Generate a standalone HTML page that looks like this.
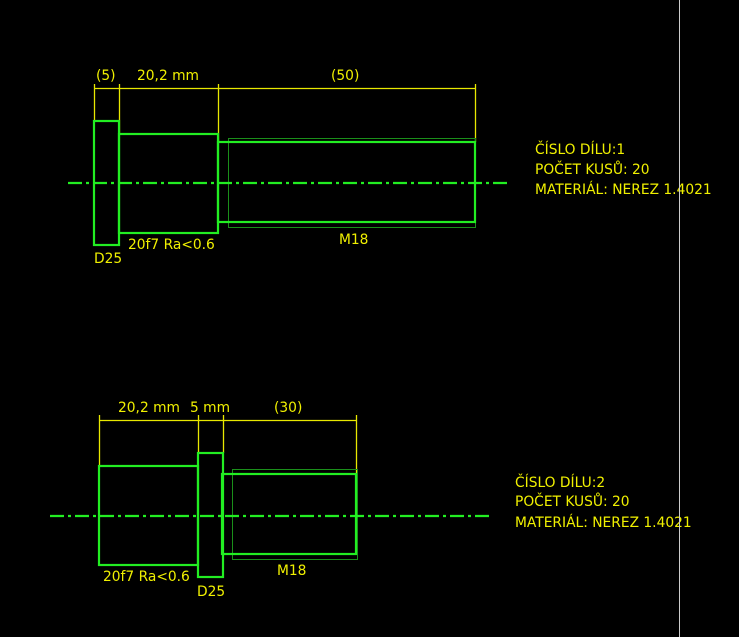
<!DOCTYPE html>
<html><head><meta charset="utf-8"><style>
html,body{margin:0;padding:0;background:#000;}
svg{display:block}
text{font-family:"DejaVu Sans","Liberation Sans",sans-serif;font-size:13.8px;fill:#f0f000;}
</style></head><body>
<svg width="739" height="637" viewBox="0 0 739 637" xmlns="http://www.w3.org/2000/svg">
<rect width="739" height="637" fill="#000"/>
<g fill="none" stroke="#e8e800" stroke-width="1.3">
<line x1="94.5" y1="84" x2="94.5" y2="121"/>
<line x1="119.5" y1="84" x2="119.5" y2="134"/>
<line x1="218.5" y1="84" x2="218.5" y2="142"/>
<line x1="475.5" y1="84" x2="475.5" y2="142"/>
<line x1="94" y1="88.5" x2="475" y2="88.5"/>
<line x1="99" y1="420.5" x2="356" y2="420.5"/>
<line x1="99.5" y1="415" x2="99.5" y2="466"/>
<line x1="198.5" y1="415" x2="198.5" y2="453"/>
<line x1="223.5" y1="415" x2="223.5" y2="453"/>
<line x1="356.5" y1="415" x2="356.5" y2="474"/>
</g>
<g fill="none" stroke="#1a8f1a" stroke-width="1">
<rect x="228.5" y="138.5" width="247" height="89"/>
<rect x="232.5" y="469.5" width="125" height="90"/>
</g>
<g fill="none" stroke="#22ee22" stroke-width="2.2">
<rect x="94" y="121" width="25" height="124"/>
<rect x="119" y="134" width="99" height="99"/>
<rect x="218" y="142" width="257" height="80"/>
<rect x="99" y="466" width="99" height="99"/>
<rect x="198" y="453" width="25" height="124"/>
<rect x="222" y="474" width="134" height="80"/>
</g>
<g stroke="#22ee22" stroke-width="2.2" stroke-dasharray="14,4,3,4">
<line x1="68" y1="183" x2="511" y2="183"/>
<line x1="50" y1="516" x2="492" y2="516"/>
</g>
<text x="96" y="80">(5)</text>
<text x="137" y="80">20,2 mm</text>
<text x="331" y="80">(50)</text>
<text x="94" y="263">D25</text>
<text x="128" y="249">20f7 Ra&lt;0.6</text>
<text x="339" y="244">M18</text>
<text x="535" y="154">ČÍSLO DÍLU:1</text>
<text x="535" y="174">POČET KUSŮ: 20</text>
<text x="535" y="194">MATERIÁL: NEREZ 1.4021</text>
<text x="118" y="412">20,2 mm</text>
<text x="190" y="412">5 mm</text>
<text x="274" y="412">(30)</text>
<text x="103" y="581">20f7 Ra&lt;0.6</text>
<text x="197" y="596">D25</text>
<text x="277" y="575">M18</text>
<text x="515" y="487">ČÍSLO DÍLU:2</text>
<text x="515" y="506">POČET KUSŮ: 20</text>
<text x="515" y="527">MATERIÁL: NEREZ 1.4021</text>
<line x1="679.5" y1="0" x2="679.5" y2="637" stroke="#cccccc" stroke-width="1"/>
</svg>
</body></html>
